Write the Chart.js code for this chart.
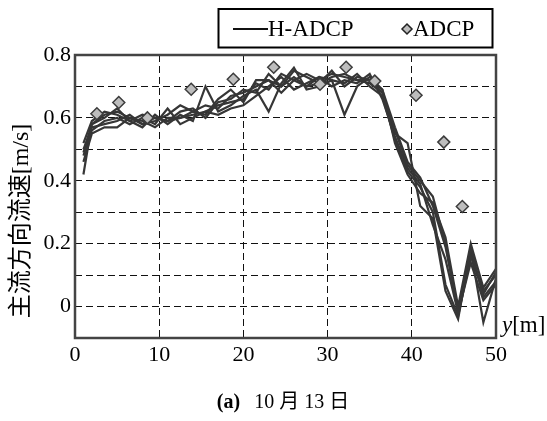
<!DOCTYPE html>
<html>
<head>
<meta charset="utf-8">
<script src="https://cdn.jsdelivr.net/npm/chart.js@4/dist/chart.umd.min.js"></script>
<style>
  body { margin: 0; background: #fff; }
  canvas { display: block; }
</style>
</head>
<body>
<canvas id="myChart" width="547" height="421"></canvas>
<script>
// ---------------------------------------------------------------
// Data (10/13)
// H-ADCP sample positions across the channel y[m]
const hadcpY = [1, 2, 3.5, 5, 6.5, 8, 9.5, 11, 12.5, 14, 15.5, 17, 18.5, 20, 21.5, 23, 24.5,
  26, 27.5, 29, 30.5, 32, 33.5, 35, 36.5, 38, 39.5, 41, 42.5, 44, 45.5, 47, 48.5, 50];

// H-ADCP profiles (several time steps)
const hadcp1 = [0.42, 0.58, 0.61, 0.62, 0.60, 0.58, 0.60, 0.59, 0.60, 0.62, 0.64, 0.63, 0.67, 0.68, 0.70, 0.72, 0.70,
  0.75, 0.73, 0.71, 0.73, 0.74, 0.72, 0.72, 0.68, 0.56, 0.45, 0.40, 0.35, 0.20, -0.02, 0.19, 0.03, 0.08];
const hadcp2 = [0.48, 0.56, 0.59, 0.60, 0.58, 0.60, 0.58, 0.63, 0.58, 0.60, 0.62, 0.64, 0.65, 0.66, 0.71, 0.69, 0.74,
  0.72, 0.70, 0.73, 0.72, 0.71, 0.74, 0.70, 0.67, 0.53, 0.43, 0.38, 0.30, 0.07, -0.03, 0.16, 0.05, 0.10];
const hadcp3 = [0.52, 0.59, 0.62, 0.61, 0.59, 0.57, 0.61, 0.58, 0.61, 0.59, 0.70, 0.62, 0.64, 0.67, 0.69, 0.62, 0.71,
  0.76, 0.69, 0.70, 0.72, 0.61, 0.70, 0.73, 0.69, 0.52, 0.42, 0.36, 0.33, 0.22, 0.00, 0.20, 0.06, 0.12];
const hadcp4 = [0.50, 0.57, 0.58, 0.59, 0.61, 0.58, 0.59, 0.61, 0.64, 0.62, 0.61, 0.66, 0.69, 0.65, 0.72, 0.72, 0.68,
  0.72, 0.74, 0.72, 0.74, 0.73, 0.72, 0.71, 0.68, 0.55, 0.52, 0.32, 0.28, 0.05, -0.04, 0.18, -0.05, 0.09];
const hadcp5 = [0.46, 0.55, 0.57, 0.57, 0.60, 0.59, 0.57, 0.60, 0.60, 0.61, 0.62, 0.61, 0.63, 0.64, 0.67, 0.70, 0.73,
  0.69, 0.71, 0.73, 0.70, 0.72, 0.71, 0.74, 0.66, 0.54, 0.44, 0.39, 0.26, 0.15, -0.02, 0.14, 0.02, 0.07];
const hadcp6 = [0.49, 0.58, 0.60, 0.63, 0.59, 0.61, 0.60, 0.59, 0.62, 0.63, 0.60, 0.65, 0.66, 0.69, 0.68, 0.74, 0.70,
  0.73, 0.70, 0.71, 0.75, 0.70, 0.73, 0.72, 0.69, 0.57, 0.46, 0.41, 0.32, 0.19, -0.01, 0.17, 0.04, 0.11];
const hadcpSeries = [hadcp1, hadcp2, hadcp3, hadcp4, hadcp5, hadcp6];

// ADCP (boat) measurements
const adcpY = [2.6, 5.2, 8.6, 13.8, 18.8, 23.6, 29.1, 32.2, 35.6, 40.5, 43.8, 46.0];
const adcpU = [0.613, 0.649, 0.600, 0.691, 0.723, 0.761, 0.707, 0.761, 0.717, 0.672, 0.523, 0.318];

// axis ranges / labels
const xTicks = [0, 10, 20, 30, 40, 50];
const yMin = -0.1, yMax = 0.8;
const yTitle = '主流方向流速[m/s]';
const xTitle = 'y';
const xUnit = '[m]';
const caption = ['(a)', '10 月 13 日'];
// ---------------------------------------------------------------

const SERIF = '"Liberation Serif", "Noto Sans CJK JP", serif';
const LINE_COLOR = '#363636';

// build datasets from the arrays
const datasets = [];
datasets.push({
  label: 'ADCP',
  type: 'scatter',
  data: adcpY.map((y, i) => ({x: y, y: adcpU[i]})),
  pointStyle: 'rectRot',
  pointRadius: 6,
  backgroundColor: '#bdbdbd',
  borderColor: '#3c3c3c',
  borderWidth: 1.5,
  order: 0
});
hadcpSeries.forEach((s, k) => {
  datasets.push({
    label: 'H-ADCP',
    type: 'line',
    data: hadcpY.map((y, i) => ({x: y, y: s[i]})),
    borderColor: LINE_COLOR,
    borderWidth: 2.2,
    pointRadius: 0,
    fill: false,
    tension: 0,
    order: 1
  });
});

// frame + legend + texts that Chart.js has no slot for
const decorations = {
  id: 'decorations',
  afterDraw(chart) {
    const ctx = chart.ctx;
    const a = chart.chartArea;
    ctx.save();

    // plot frame
    ctx.strokeStyle = '#444';
    ctx.lineWidth = 2.5;
    ctx.strokeRect(a.left, a.top, a.right - a.left, a.bottom - a.top);

    // legend box
    ctx.strokeStyle = '#000';
    ctx.lineWidth = 2;
    ctx.strokeRect(218.5, 9, 274, 38.5);
    const ly = 29;
    ctx.beginPath();
    ctx.moveTo(233, ly);
    ctx.lineTo(268, ly);
    ctx.strokeStyle = '#111';
    ctx.lineWidth = 2;
    ctx.stroke();
    ctx.font = '23px ' + SERIF;
    ctx.fillStyle = '#000';
    ctx.textBaseline = 'middle';
    ctx.textAlign = 'left';
    ctx.fillText(datasets[1].label, 268, ly + 1);
    // diamond
    ctx.beginPath();
    ctx.moveTo(407, ly - 5);
    ctx.lineTo(412, ly);
    ctx.lineTo(407, ly + 5);
    ctx.lineTo(402, ly);
    ctx.closePath();
    ctx.fillStyle = '#bdbdbd';
    ctx.fill();
    ctx.strokeStyle = '#222';
    ctx.lineWidth = 1.5;
    ctx.stroke();
    ctx.fillStyle = '#000';
    ctx.fillText(datasets[0].label, 413, ly + 1);

    // y axis title (rotated)
    ctx.save();
    ctx.translate(22, 221);
    ctx.rotate(-Math.PI / 2);
    ctx.font = '24px ' + SERIF;
    ctx.textAlign = 'center';
    ctx.fillText(yTitle, 0, 0);
    ctx.restore();

    // x axis title, right of the plot
    ctx.textAlign = 'left';
    ctx.font = 'italic 23px ' + SERIF;
    const wy = ctx.measureText(xTitle).width;
    ctx.fillText(xTitle, a.right + 6, a.bottom - 12);
    ctx.font = '23px ' + SERIF;
    ctx.fillText(xUnit, a.right + 6 + wy, a.bottom - 12);

    // caption
    ctx.font = 'bold 20px ' + SERIF;
    const w1 = ctx.measureText(caption[0]).width;
    ctx.font = '20px ' + SERIF;
    const w2 = ctx.measureText(caption[1]).width;
    const gap = 14;
    let cx = 283 - (w1 + gap + w2) / 2;
    ctx.font = 'bold 20px ' + SERIF;
    ctx.fillText(caption[0], cx, 403);
    ctx.font = '20px ' + SERIF;
    ctx.fillText(caption[1], cx + w1 + gap, 403);

    ctx.restore();
  }
};

const ctx = document.getElementById('myChart').getContext('2d');
const chart = new Chart(ctx, {
  data: { datasets: datasets },
  options: {
    responsive: false,
    animation: false,
    layout: { padding: { left: 0, right: 51, top: 55, bottom: 0 } },
    plugins: {
      legend: { display: false },
      tooltip: { enabled: false }
    },
    scales: {
      x: {
        type: 'linear',
        min: 0,
        max: 50,
        afterFit: s => { s.height = 83; },
        afterBuildTicks: s => { s.ticks = xTicks.map(v => ({value: v})); },
        grid: { color: '#111', lineWidth: 1, drawTicks: false },
        border: { display: false, dash: [7, 4] },
        ticks: {
          padding: 4,
          color: '#000',
          font: { family: SERIF, size: 22 },
          maxRotation: 0
        }
      },
      y: {
        type: 'linear',
        min: yMin,
        max: yMax,
        afterFit: s => { s.width = 75; },
        grid: { color: '#111', lineWidth: 1, drawTicks: false },
        border: { display: false, dash: [7, 4] },
        ticks: {
          stepSize: 0.1,
          padding: 4,
          color: '#000',
          font: { family: SERIF, size: 22 },
          callback: function (v) {
            const t = Math.round(v * 10);
            if (t === 0) return '0';
            if (t % 2 !== 0 || t < 0) return '';
            return (t / 10).toFixed(1);
          }
        }
      }
    }
  },
  plugins: [decorations]
});
</script>
</body>
</html>
